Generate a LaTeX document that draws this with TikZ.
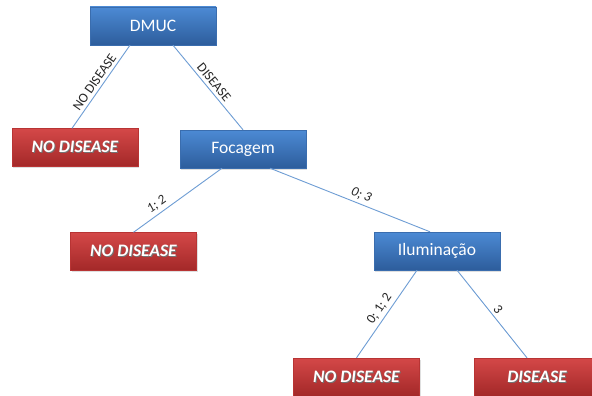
\documentclass[tikz,border=0pt]{standalone}
\usepackage{fontspec}
\setmainfont{Carlito}
\usetikzlibrary{shadows}
\definecolor{bluetop}{HTML}{4C8AD4}
\definecolor{bluebot}{HTML}{2D5D9C}
\definecolor{blueedge}{HTML}{3A6DAE}
\definecolor{redtop}{HTML}{D44848}
\definecolor{redbot}{HTML}{A32828}
\definecolor{rededge}{HTML}{B83434}
\definecolor{linkblue}{HTML}{6E9DD4}
% white text with a soft dark offset shadow
\newcommand{\shtext}[1]{\rlap{\hspace{0.9pt}\raisebox{-0.9pt}{\textcolor{black!55}{#1}}}#1}
\tikzset{
  box/.style={minimum width=126pt, minimum height=38pt, inner sep=0pt,
    text=white, font=\fontsize{17.5}{20}\selectfont,
    drop shadow={opacity=0.25, shadow xshift=1.2pt, shadow yshift=-1.5pt}},
  test/.style={box, draw=blueedge, top color=bluetop, bottom color=bluebot},
  leaf/.style={box, draw=rededge, top color=redtop, bottom color=redbot,
    font=\fontsize{17.5}{20}\selectfont\bfseries\itshape},
  link/.style={draw=linkblue, line width=0.9pt},
  lbl/.style={font=\fontsize{13.5}{15}\selectfont, text=black!85, sloped, above, inner sep=3pt}
}
\begin{document}
\begin{tikzpicture}[x=1pt, y=-1pt]
  \useasboundingbox (0,0) rectangle (592,396);
  \clip (0,0) rectangle (592,396);
  \fill[white] (0,0) rectangle (592,396);

  \node[test] (dmuc) at (153,26) {DMUC};
  \node[leaf] (nd1) at (75,147.5) {\shtext{NO DISEASE}};
  \node[test] (foc) at (243,149) {Focagem};
  \node[leaf] (nd2) at (133.5,251.5) {\shtext{NO DISEASE}};
  \node[test] (ilu) at (437,251) {Iluminação};
  \node[leaf] (nd3) at (356.5,377) {\shtext{NO DISEASE}};
  \node[leaf] (dis) at (537,377) {\shtext{DISEASE}};

  \draw[link] ([xshift=-23pt]dmuc.south) -- node[lbl] {NO DISEASE} ([xshift=-3pt]nd1.north);
  \draw[link] ([xshift=20pt]dmuc.south) -- node[lbl] {DISEASE} (foc.north);
  \draw[link] ([xshift=-21pt]foc.south) -- node[lbl, pos=0.68] {\itshape 1; 2} (nd2.north);
  \draw[link] ([xshift=27pt]foc.south) -- node[lbl, pos=0.55] {\itshape 0; 3} ([xshift=-7pt]ilu.north);
  \draw[link] ([xshift=-20pt]ilu.south) -- node[lbl] {0; 1; 2} (nd3.north);
  \draw[link] ([xshift=20pt]ilu.south) -- node[lbl] {3} ([xshift=-10pt]dis.north);
\end{tikzpicture}
\end{document}
